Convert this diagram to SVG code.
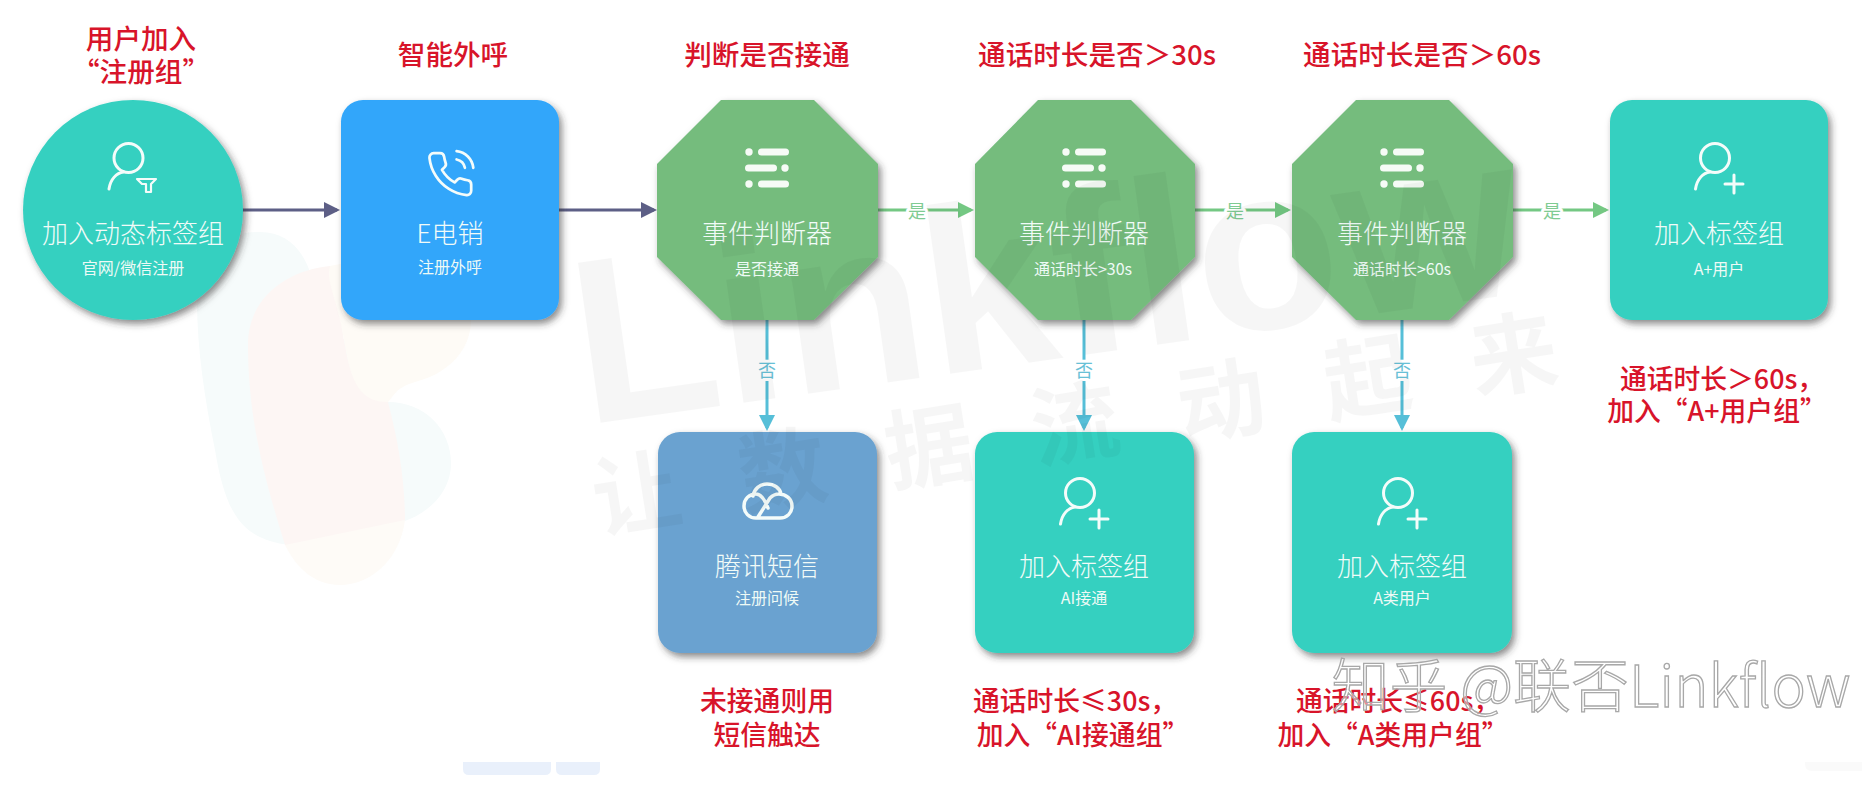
<svg xmlns="http://www.w3.org/2000/svg" width="1862" height="787" viewBox="0 0 1862 787">
<style>
text{font-family:"Noto Sans CJK SC","Noto Sans",sans-serif;text-anchor:middle;dominant-baseline:central}
.t{font-size:26px;fill:#f1fbf8;font-weight:300}
.s{font-size:16px;fill:#eefaf6}
.r{font-size:27.6px;fill:#d8142a;font-weight:500}
.q{font-size:26.8px;fill:#d8142a;font-weight:500}
.ly{font-size:18px;fill:#7fcb92;stroke:#fff;stroke-width:6px;paint-order:stroke;stroke-linejoin:round}
.ln{font-size:18px;fill:#68c0d6;stroke:#fff;stroke-width:6px;paint-order:stroke;stroke-linejoin:round}
.teal{fill:#36d0c0}
.green{fill:#74bc7d}
.shd{filter:url(#sh)}
.ic{fill:none;stroke:#f4fcfa;stroke-width:3;stroke-linecap:round;stroke-linejoin:round}
.ifill{fill:#f6fbf6}
.c{fill:none;stroke-width:3}
.wm{fill:#000;opacity:.03}
</style>
<defs>
<filter id="sh" x="-10%" y="-10%" width="125%" height="125%"><feDropShadow dx="3" dy="4" stdDeviation="3.5" flood-color="#333" flood-opacity=".55"/></filter>
<marker id="aD" markerUnits="userSpaceOnUse" markerWidth="17" markerHeight="18" refX="13" refY="9" orient="auto"><path d="M0 1L16 9L0 17z" fill="#5d5f86"/></marker>
<marker id="aG" markerUnits="userSpaceOnUse" markerWidth="17" markerHeight="18" refX="13" refY="9" orient="auto"><path d="M0 1L16 9L0 17z" fill="#74c883"/></marker>
<marker id="aB" markerUnits="userSpaceOnUse" markerWidth="17" markerHeight="18" refX="13" refY="9" orient="auto"><path d="M0 1L16 9L0 17z" fill="#56bfd8"/></marker>
<g id="person"><path class="ic" d="M-19.5 31C-18 21-12 15-5 14"/><ellipse class="ic" cx="0" cy="0" rx="14.5" ry="14.5"/></g>
<g id="personPlus"><use href="#person"/><path class="ic" d="M19 17V35M10 26H28"/></g>
<g id="menu"><g class="ifill"><circle cx="4" cy="0" r="3.7"/><rect x="13" y="-3.5" width="31" height="7" rx="3.5"/><rect x="0" y="12.5" width="32" height="7" rx="3.5"/><circle cx="40" cy="16" r="3.7"/><circle cx="4" cy="32" r="3.7"/><rect x="13" y="28.5" width="31" height="7" rx="3.5"/></g></g>
</defs>
<rect width="1862" height="787" fill="#fff"/>

<g id="logo-watermark">
<path fill="#f6fbfb" d="M197 300C197 250 225 232 260 232C295 232 312 262 316 300L388 402C425 402 452 430 451 465C450 495 425 515 402 522L290 545C240 540 225 510 215 450C205 400 197 350 197 300Z"/>
<path fill="#fdf6f4" d="M248 345C248 295 290 270 330 266C350 265 335 300 345 345C352 390 365 390 388 402C398 440 405 480 405 520C390 525 300 545 285 545C265 480 248 420 248 345Z"/>
<path fill="#fefbf6" d="M330 266C380 255 450 255 468 300C480 340 455 372 415 382C395 388 395 395 388 402C365 402 352 390 345 345C338 300 325 280 330 266Z"/>
<path fill="#fefbf7" d="M285 545L405 520C400 560 370 585 340 585C312 585 295 565 285 545Z"/>
</g>

<g id="connectors">
<line class="c" x1="242" y1="210" x2="337" y2="210" stroke="#5d5f86" marker-end="url(#aD)"/>
<line class="c" x1="559" y1="210" x2="654" y2="210" stroke="#5d5f86" marker-end="url(#aD)"/>
<line class="c" x1="878" y1="210" x2="971" y2="210" stroke="#74c883" marker-end="url(#aG)"/>
<line class="c" x1="1195" y1="210" x2="1288" y2="210" stroke="#74c883" marker-end="url(#aG)"/>
<line class="c" x1="1513" y1="210" x2="1606" y2="210" stroke="#74c883" marker-end="url(#aG)"/>
<line class="c" x1="767" y1="320" x2="767" y2="428" stroke="#56bfd8" marker-end="url(#aB)"/>
<line class="c" x1="1084" y1="320" x2="1084" y2="428" stroke="#56bfd8" marker-end="url(#aB)"/>
<line class="c" x1="1402" y1="320" x2="1402" y2="428" stroke="#56bfd8" marker-end="url(#aB)"/>
<text class="ly" x="917" y="210">是</text>
<text class="ly" x="1235" y="210">是</text>
<text class="ly" x="1552" y="210">是</text>
<text class="ln" x="767" y="369">否</text>
<text class="ln" x="1084" y="369">否</text>
<text class="ln" x="1402" y="369">否</text>
</g>

<g id="node-start">
<circle class="teal shd" cx="133" cy="210" r="110"/>
<use href="#person" x="128.500" y="158"/>
<path class="ic" style="stroke-width:2.2" d="M137 179H156L151 184V192H146V184H142Z"/>
<text class="t" x="133" y="231">加入动态标签组</text>
<text class="s" x="133" y="267">官网/微信注册</text>
</g>

<g id="node-call">
<rect class="shd" x="341" y="100" width="218" height="220" rx="22" fill="#30a6fa"/>
<path class="ic" transform="translate(425 149) scale(2.1)" style="stroke-width:1.3" d="M15.05 5A5 5 0 0 1 19 8.95M15.05 1A9 9 0 0 1 23 8.94M22 16.92v3a2 2 0 0 1-2.18 2 19.79 19.79 0 0 1-8.63-3.07 19.5 19.5 0 0 1-6-6 19.79 19.79 0 0 1-3.07-8.67A2 2 0 0 1 4.11 2h3a2 2 0 0 1 2 1.72 12.84 12.84 0 0 0 .7 2.81 2 2 0 0 1-.45 2.11L8.09 9.91a16 16 0 0 0 6 6l1.27-1.27a2 2 0 0 1 2.11-.45 12.84 12.84 0 0 0 2.81.7A2 2 0 0 1 22 16.92z"/>
<text class="t" x="450" y="231">E电销</text>
<text class="s" x="450" y="266">注册外呼</text>
</g>

<g id="node-check-1">
<path class="green shd" d="M721 100H814L878 164V257L814 320H721L657 257V164Z"/>
<use href="#menu" x="745" y="152"/>
<text class="t" x="767" y="231">事件判断器</text>
<text class="s" x="767" y="268">是否接通</text>
</g>

<g id="node-check-2">
<path class="green shd" d="M1038 100H1131L1195 164V257L1131 320H1038L975 257V164Z"/>
<use href="#menu" x="1062" y="152"/>
<text class="t" x="1084" y="231">事件判断器</text>
<text class="s" x="1083" y="268">通话时长&gt;30s</text>
</g>

<g id="node-check-3">
<path class="green shd" d="M1356 100H1449L1513 164V257L1449 320H1356L1292 257V164Z"/>
<use href="#menu" x="1380" y="152"/>
<text class="t" x="1402" y="231">事件判断器</text>
<text class="s" x="1402" y="268">通话时长&gt;60s</text>
</g>

<g id="node-aplus">
<rect class="teal shd" x="1610" y="100" width="218" height="220" rx="22"/>
<use href="#personPlus" x="1715" y="158"/>
<text class="t" x="1719" y="231">加入标签组</text>
<text class="s" x="1719" y="268">A+用户</text>
</g>

<g id="node-sms">
<rect class="shd" x="658" y="432" width="219" height="221" rx="22" fill="#6aa2d0"/>
<path class="ic" style="stroke-width:3.5" d="M756 518H780C787 518 792 513 792 506C792 499 786 494 779 494C775 494 772 496 770 498L758 517M753 496C754 489 760 484 767 484C774 484 780 488 781 494M768 508C765 499 760 494 756 494C749 494 744 499 744 506C744 513 749 518 756 518"/>
<text class="t" x="767" y="564">腾讯短信</text>
<text class="s" x="767" y="597">注册问候</text>
</g>

<g id="node-ai">
<rect class="teal shd" x="975" y="432" width="219" height="221" rx="22"/>
<use href="#personPlus" x="1080" y="493"/>
<text class="t" x="1084" y="564">加入标签组</text>
<text class="s" x="1084" y="597">AI接通</text>
</g>

<g id="node-a">
<rect class="teal shd" x="1292" y="432" width="220" height="221" rx="22"/>
<use href="#personPlus" x="1398" y="493"/>
<text class="t" x="1402" y="564">加入标签组</text>
<text class="s" x="1402" y="597">A类用户</text>
</g>

<g id="watermark">
<text class="wm" style="font-family:'Liberation Sans',sans-serif;font-weight:700;font-size:235px;text-anchor:start;dominant-baseline:auto" transform="translate(585 425) rotate(-8)">Linkflow</text>
<text class="wm" style="font-size:88px;font-weight:700;text-anchor:start;letter-spacing:60px" transform="translate(592 494) rotate(-9)">让数据流动起来</text>
</g>

<g id="annotations">
<text class="r" x="141" y="37">用户加入</text>
<text class="r" x="141" y="70">“注册组”</text>
<text class="r" x="453" y="53">智能外呼</text>
<text class="r" x="767" y="53">判断是否接通</text>
<text class="r" x="1097" y="53">通话时长是否＞30s</text>
<text class="r" x="1422" y="53">通话时长是否＞60s</text>
<text class="q" x="1722" y="377">通话时长＞60s，</text>
<text class="q" x="1717" y="409">加入“A+用户组”</text>
<text class="q" x="767" y="699">未接通则用</text>
<text class="q" x="767" y="733">短信触达</text>
<text class="q" x="1075" y="699">通话时长≤30s，</text>
<text class="q" x="1083" y="733">加入“AI接通组”</text>
<text class="q" x="1398" y="699">通话时长≤60s，</text>
<text class="q" x="1393" y="733">加入“A类用户组”</text>
</g>

<g id="page-marks">
<path fill="#e9f0fb" d="M463 762H551V769Q551 775 545 775H469Q463 775 463 769Z"/>
<path fill="#e9f0fb" d="M556 762H600V769Q600 775 594 775H562Q556 775 556 769Z"/>
<path fill="#fafafa" d="M1805 762H1862V771H1812Q1805 771 1805 764Z"/>
</g>

<g id="site-mark">
<text x="1591" y="682" style="font-size:58px;font-weight:300;fill:#fff;fill-opacity:.5;stroke:#a8a8a8;stroke-width:1.3px">知乎 @联否Linkflow</text>
</g>
</svg>
